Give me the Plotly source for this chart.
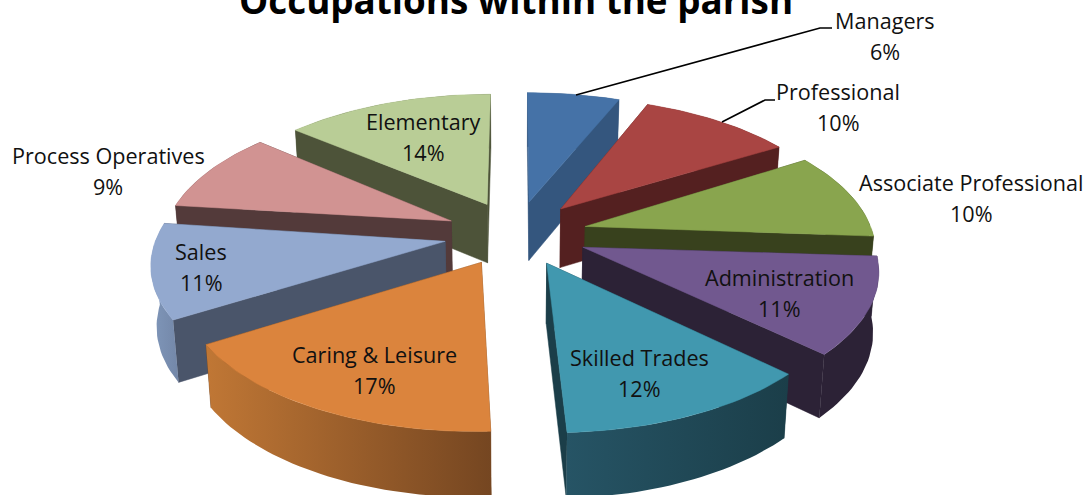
import math
import plotly.graph_objects as go

TITLE = "Occupations within the parish"
categories = ["Managers", "Professional", "Associate Professional", "Administration",
              "Skilled Trades", "Caring & Leisure", "Sales", "Process Operatives", "Elementary"]
shares = [6.0, 10.0, 10.0, 11.1, 12.2, 16.9, 10.9, 9.3, 13.6]

top_colors = ["#4572A7", "#A94543", "#89A54E", "#71588F", "#4198AF", "#DB843D", "#93A9CF", "#D19392", "#B9CD96"]
side_colors = ["#34567E", "#542020", "#38411D", "#2C2236", "#1B3E49", "#754621", "#4A556A", "#533A3A", "#4D5339"]
rim_left = ["#34567E", "#542020", "#38411D", "#2C2236", "#265465", "#C07735", "#8097BA", "#533A3A", "#4D5339"]
rim_right = ["#34567E", "#542020", "#38411D", "#2C2236", "#1B3E49", "#754621", "#7387A8", "#533A3A", "#4D5339"]

# Label centres in picture pixels
label_xy = [(885, 20), (838, 91), (971, 182), (779, 277), (639, 357), (374, 354), (201, 251), (108, 155), (423, 121)]
LINE_GAP = 31

# View model
CX, CY, RX, RY, K, DEPTH, KD, TAPER = 516, 235, 288, 137, 0.14, 59.5, 0.08, 0.016
EX, EY, BACK_APEX = 0.25, 0.22, 1.15


def project(x, y, z=0.0):
    w = 1 + K * y
    return CX + RX * x / w * (1 - TAPER * z), CY - RY * y / w + DEPTH * z / (1 + KD * y)


fig = go.Figure()


def poly(points, color, grad=None):
    xs = [p[0] for p in points] + [points[0][0]]
    ys = [p[1] for p in points] + [points[0][1]]
    kw = dict(fillcolor=color) if grad is None else dict(
        fillgradient=dict(type="horizontal", colorscale=[[0, grad[0]], [1, grad[1]]]))
    fig.add_trace(go.Scatter(x=xs, y=ys, mode="lines", fill="toself",
                             line=dict(color=color, width=0.5 if grad is None else 0),
                             hoverinfo="skip", showlegend=False, **kw))


total = sum(shares)
slices = []
acc = 0
for i, v in enumerate(shares):
    a0 = acc / total * 2 * math.pi
    acc += v
    a1 = acc / total * 2 * math.pi
    slices.append((i, a0, a1))
slices.sort(key=lambda s: -math.cos((s[1] + s[2]) / 2))

STEP = math.radians(1.5)
for i, a0, a1 in slices:
    mid = (a0 + a1) / 2
    ox, oy = EX * math.sin(mid), EY * math.cos(mid)
    ay = oy * BACK_APEX if oy > 0 else oy
    n = max(2, int((a1 - a0) / STEP))
    angs = [a0 + (a1 - a0) * j / n for j in range(n + 1)]
    rim = [(ox + math.sin(t), oy + math.cos(t)) for t in angs]
    grad = (rim_left[i], rim_right[i])

    def band(idx):
        pts = [rim[j] for j in idx]
        return [project(*p) for p in pts] + [project(p[0], p[1], 1) for p in reversed(pts)]

    back = [j for j in range(n + 1) if math.cos(angs[j]) >= 0]
    front = [j for j in range(n + 1) if math.cos(angs[j]) <= 0]
    if len(back) > 1:
        poly(band(back), rim_right[i], grad)
    for p in sorted([rim[0], rim[-1]], key=lambda p: -p[1]):
        poly([project(ox, ay), project(*p), project(p[0], p[1], 1), project(ox, ay, 1)], side_colors[i])
    if len(front) > 1:
        poly(band(front), rim_right[i], grad)
    poly([project(ox, ay)] + [project(*p) for p in rim], top_colors[i])

FONT = "Open Sans"
SIZE = 21.6
annots = []
for name, v, (lx, ly) in zip(categories, shares, label_xy):
    annots.append(dict(x=lx, y=ly, text=name, showarrow=False, xref="x", yref="y",
                       font=dict(family=FONT, size=SIZE, color="#111111")))
    annots.append(dict(x=lx, y=ly + LINE_GAP, text=f"{round(v)}%", showarrow=False, xref="x", yref="y",
                       font=dict(family=FONT, size=SIZE, color="#111111")))
annots.append(dict(x=516 / 1087, y=1, yshift=0, yanchor="middle", text=f"<b>{TITLE}</b>", showarrow=False,
                   xref="paper", yref="paper", font=dict(family=FONT, size=36.8, color="#000000")))

leaders = [[(576, 95), (820, 28), (832, 28)], [(722, 122), (765, 100), (775, 100)]]
shapes = []
for path in leaders:
    d = "M " + " L ".join(f"{x} {y}" for x, y in path)
    shapes.append(dict(type="path", path=d, xref="x", yref="y", line=dict(color="#000000", width=1.6)))

fig.update_layout(
    width=1087, height=495, margin=dict(l=0, r=0, t=0, b=0), showlegend=False,
    paper_bgcolor="#FFFFFF", plot_bgcolor="#FFFFFF", annotations=annots, shapes=shapes,
    xaxis=dict(range=[0, 1087], visible=False, fixedrange=True),
    yaxis=dict(range=[495, 0], visible=False, fixedrange=True),
)
fig.write_html("out.html", config={"displayModeBar": False},
               post_script="document.body.style.margin='0';document.documentElement.style.overflow='hidden';")
